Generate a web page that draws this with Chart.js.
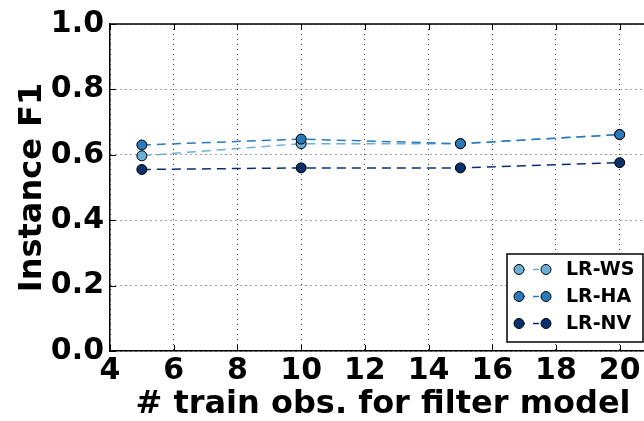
<!DOCTYPE html>
<html>
<head>
<meta charset="utf-8">
<script src="https://cdn.jsdelivr.net/npm/chart.js@4"></script>
<style>
  body { margin: 0; background: #fff; overflow: hidden; }
</style>
</head>
<body>
<canvas id="f1Chart" width="662" height="421"></canvas>
<script>
const trainObs = [5, 10, 15, 20];
const wsF1 = [0.597, 0.634, 0.634, 0.662];
const haF1 = [0.630, 0.648, 0.634, 0.662];
const nvF1 = [0.555, 0.560, 0.560, 0.576];
const xTicks = [4, 6, 8, 10, 12, 14, 16, 18, 20];
const yTicks = [0, 0.2, 0.4, 0.6, 0.8, 1.0];

const FONT = 'DejaVu Sans';

// order: later-plotted series sit on top, like matplotlib
function series(label, values, color, order) {
  return {
    label: label,
    data: trainObs.map((x, i) => ({ x: x, y: values[i] })),
    borderColor: color,
    backgroundColor: color,
    pointBackgroundColor: color,
    pointBorderColor: '#000',
    pointBorderWidth: 1,
    pointRadius: 5,
    borderWidth: 1.5,
    borderDash: [9, 6],
    tension: 0,
    order: order
  };
}

// matplotlib style frame: top line + inward ticks
const framePlugin = {
  id: 'frame',
  afterDraw(chart) {
    const { ctx, chartArea: a, scales: { x, y } } = chart;
    ctx.save();
    ctx.strokeStyle = '#000';
    ctx.lineWidth = 1.5;
    ctx.beginPath();
    ctx.moveTo(a.left, a.top);
    ctx.lineTo(a.right, a.top);
    ctx.stroke();
    ctx.lineWidth = 1;
    ctx.beginPath();
    xTicks.forEach(v => {
      const px = Math.round(x.getPixelForValue(v)) + 0.5;
      ctx.moveTo(px, a.bottom); ctx.lineTo(px, a.bottom - 6);
      ctx.moveTo(px, a.top); ctx.lineTo(px, a.top + 6);
    });
    yTicks.forEach(v => {
      const py = Math.round(y.getPixelForValue(v)) + 0.5;
      ctx.moveTo(a.left, py); ctx.lineTo(a.left + 6, py);
    });
    ctx.stroke();
    ctx.restore();
  }
};

// legend with two markers per entry, like matplotlib
const legendPlugin = {
  id: 'mplLegend',
  afterDraw(chart) {
    const ctx = chart.ctx;
    const box = { left: 507, top: 254, right: 643, bottom: 342 };
    ctx.save();
    ctx.fillStyle = '#fff';
    ctx.fillRect(box.left, box.top, box.right - box.left, box.bottom - box.top);
    ctx.strokeStyle = '#000';
    ctx.lineWidth = 1.5;
    ctx.strokeRect(box.left, box.top, box.right - box.left, box.bottom - box.top);
    chart.data.datasets.forEach((ds, i) => {
      const cy = 269.5 + i * 27;
      ctx.strokeStyle = ds.borderColor;
      ctx.lineWidth = 1.5;
      ctx.setLineDash([6, 8]);
      ctx.beginPath();
      ctx.moveTo(519, cy); ctx.lineTo(546, cy);
      ctx.stroke();
      ctx.setLineDash([]);
      [519, 546].forEach(cx => {
        ctx.beginPath();
        ctx.arc(cx, cy, 5, 0, Math.PI * 2);
        ctx.fillStyle = ds.borderColor;
        ctx.fill();
        ctx.strokeStyle = '#000';
        ctx.lineWidth = 1;
        ctx.stroke();
      });
      ctx.fillStyle = '#000';
      ctx.font = 'bold 19px "' + FONT + '"';
      ctx.textBaseline = 'middle';
      ctx.fillText(ds.label, 566, cy + 1);
    });
    ctx.restore();
  }
};

new Chart(document.getElementById('f1Chart').getContext('2d'), {
  type: 'line',
  data: {
    datasets: [
      series('LR-WS', wsF1, '#6baed6', 2),
      series('LR-HA', haF1, '#2a7abb', 1),
      series('LR-NV', nvF1, '#08306b', 0)
    ]
  },
  options: {
    responsive: false,
    animation: false,
    layout: { padding: { top: 21, left: 0, right: 0, bottom: 0 } },
    plugins: { legend: { display: false }, tooltip: { enabled: false } },
    scales: {
      x: {
        type: 'linear',
        min: 4,
        max: 21.14,
        afterBuildTicks: s => { s.ticks = xTicks.map(v => ({ value: v })); },
        afterFit: s => { s.height = 70; },
        ticks: {
          color: '#000',
          font: { family: FONT, size: 30, weight: 'bold' },
          padding: 2,
          maxRotation: 0,
          autoSkip: false
        },
        grid: { color: '#444', lineWidth: 1, drawTicks: false },
        border: { display: true, color: '#000', width: 1.5, dash: [1, 4] },
        title: {
          display: true,
          text: '# train obs. for filter model',
          color: '#000',
          font: { family: FONT, size: 32, weight: 'bold', lineHeight: 1.05 },
          padding: { top: 0, bottom: 0 }
        }
      },
      y: {
        min: 0,
        max: 1,
        afterBuildTicks: s => { s.ticks = yTicks.map(v => ({ value: v })); },
        afterFit: s => { s.width = 110; },
        ticks: {
          color: '#000',
          font: { family: FONT, size: 30, weight: 'bold' },
          padding: 6,
          callback: v => v.toFixed(1)
        },
        grid: { color: '#444', lineWidth: 1, drawTicks: false },
        border: { display: true, color: '#000', width: 1.5, dash: [1, 4] },
        title: {
          display: true,
          text: 'Instance F1',
          color: '#000',
          font: { family: FONT, size: 32, weight: 'bold' },
          padding: { top: 13, bottom: 0 }
        }
      }
    }
  },
  plugins: [framePlugin, legendPlugin]
});
</script>
</body>
</html>
